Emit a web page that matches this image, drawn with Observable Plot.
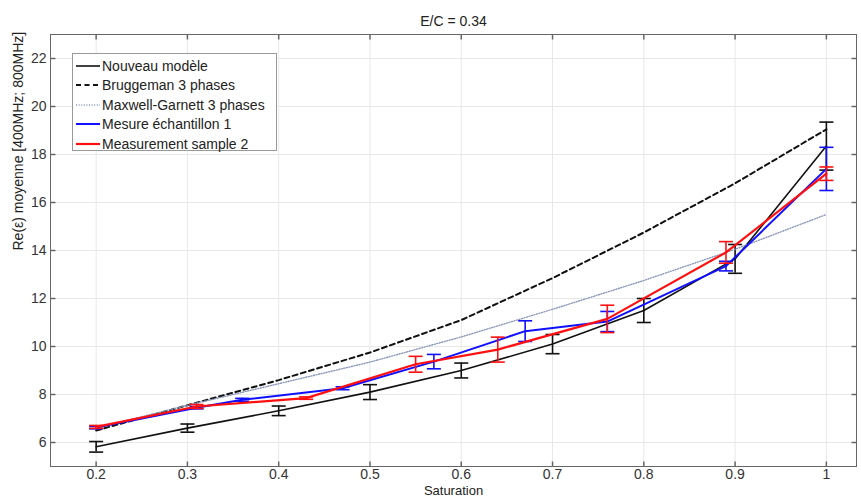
<!DOCTYPE html>
<html>
<head>
<meta charset="utf-8">
<script src="https://cdn.jsdelivr.net/npm/d3@7"></script>
<script src="https://cdn.jsdelivr.net/npm/@observablehq/plot@0.6"></script>
<style>
  html, body { margin: 0; padding: 0; background: #fff; }
  #wrap { position: relative; width: 861px; height: 501px; font-family: "Liberation Sans", Arial, sans-serif; }
  #legend { position: absolute; left: 72px; top: 53px; width: 205px; height: 98px; background: #fff; border: 1px solid #999; box-sizing: border-box; padding-top: 2px; }
  #legend .row { display: flex; align-items: center; height: 19.5px; font-size: 14px; color: #222; white-space: nowrap; }
  #legend svg { margin-left: 2px; margin-right: 1px; }
</style>
</head>
<body>
<div id="wrap"><div id="legend"></div></div>
<script>
// ---- data ----
const title = "E/C = 0.34";
const xLabel = "Saturation";
const yLabel = "Re(\u03b5) moyenne [400MHz; 800MHz]";
const xTicks = [0.2, 0.3, 0.4, 0.5, 0.6, 0.7, 0.8, 0.9, 1];
const yTicks = [6, 8, 10, 12, 14, 16, 18, 20, 22];

const modelSat = [0.2, 0.3, 0.4, 0.5, 0.6, 0.7, 0.8, 0.9, 1.0];
const modelMean = [5.82, 6.6, 7.32, 8.1, 9.0, 10.1, 11.5, 13.65, 18.35];
const modelErr = [0.22, 0.17, 0.2, 0.31, 0.31, 0.4, 0.5, 0.6, 1.0];

const bruggeman = [6.5, 7.55, 8.6, 9.75, 11.1, 12.85, 14.75, 16.8, 19.05];
const maxwell = [6.6, 7.55, 8.45, 9.35, 10.4, 11.55, 12.75, 14.05, 15.5];

const s1Sat = [0.2, 0.31, 0.36, 0.47, 0.57, 0.67, 0.76, 0.89, 1.0];
const s1Mean = [6.62, 7.45, 7.78, 8.26, 9.37, 10.64, 11.04, 13.35, 17.4];
const s1Err = [0.05, 0.05, 0.06, 0.06, 0.3, 0.43, 0.42, 0.2, 0.9];

const s2Sat = [0.2, 0.31, 0.43, 0.55, 0.64, 0.76, 0.89, 1.0];
const s2Mean = [6.65, 7.5, 7.85, 9.26, 9.87, 11.15, 13.92, 17.2];
const s2Err = [0.06, 0.08, 0.05, 0.33, 0.52, 0.57, 0.45, 0.28];

const seriesNames = ["Nouveau modèle", "Bruggeman 3 phases", "Maxwell-Garnett 3 phases", "Mesure échantillon 1", "Measurement sample 2"];

// ---- build tables ----
const model = modelSat.map((s, i) => ({s, v: modelMean[i], e: modelErr[i]}));
const brug = modelSat.map((s, i) => ({s, v: bruggeman[i]}));
const mg = modelSat.map((s, i) => ({s, v: maxwell[i]}));
const m1 = s1Sat.map((s, i) => ({s, v: s1Mean[i], e: s1Err[i]}));
const m2 = s2Sat.map((s, i) => ({s, v: s2Mean[i], e: s2Err[i]}));

const styles = [
  {stroke: "#111", strokeWidth: 1.6, dash: null},
  {stroke: "#111", strokeWidth: 2, dash: "5,3.5"},
  {stroke: "#8a97b8", strokeWidth: 1.4, dash: "1,1.6"},
  {stroke: "#1010ff", strokeWidth: 2, dash: null},
  {stroke: "#ff1010", strokeWidth: 2.2, dash: null}
];

// custom symbols
const cap = {draw(ctx) { ctx.moveTo(-7, 0); ctx.lineTo(7, 0); }};
const tickInR = {draw(ctx) { ctx.moveTo(0, 0); ctx.lineTo(5, 0); }};
const tickInL = {draw(ctx) { ctx.moveTo(0, 0); ctx.lineTo(-5, 0); }};
const tickInU = {draw(ctx) { ctx.moveTo(0, 0); ctx.lineTo(0, -5); }};
const tickInD = {draw(ctx) { ctx.moveTo(0, 0); ctx.lineTo(0, 5); }};

function errMarks(data, st) {
  return [
    Plot.ruleX(data, {x: "s", y1: d => d.v - d.e, y2: d => d.v + d.e, stroke: st.stroke, strokeWidth: 1.6}),
    Plot.dot(data, {x: "s", y: d => d.v - d.e, symbol: cap, stroke: st.stroke, fill: "none", strokeWidth: 1.6}),
    Plot.dot(data, {x: "s", y: d => d.v + d.e, symbol: cap, stroke: st.stroke, fill: "none", strokeWidth: 1.6})
  ];
}
function lineMark(data, st) {
  return Plot.line(data, {x: "s", y: "v", stroke: st.stroke, strokeWidth: st.strokeWidth, strokeDasharray: st.dash});
}

const chart = Plot.plot({
  width: 861,
  height: 501,
  marginLeft: 50,
  marginRight: 5,
  marginTop: 34,
  marginBottom: 35,
  style: {fontFamily: "'Liberation Sans', Arial, sans-serif", fontSize: "14px", color: "#333", background: "#fff"},
  x: {domain: [0.15, 1.033]},
  y: {domain: [5, 23]},
  marks: [
    Plot.gridX(xTicks, {stroke: "#e8e8e8", strokeOpacity: 1}),
    Plot.gridY(yTicks, {stroke: "#e8e8e8", strokeOpacity: 1}),
    Plot.frame({stroke: "#666", strokeWidth: 1}),
    Plot.axisX(xTicks, {tickSize: 0, tickPadding: 3, tickFormat: d => String(d), label: null, fill: "#333"}),
    Plot.axisY(yTicks, {tickSize: 0, tickPadding: 4, label: null, fill: "#333"}),
    Plot.dot(yTicks, {y: d => d, frameAnchor: "left", symbol: tickInR, stroke: "#666", fill: "none"}),
    Plot.dot(yTicks, {y: d => d, frameAnchor: "right", symbol: tickInL, stroke: "#666", fill: "none"}),
    Plot.dot(xTicks, {x: d => d, frameAnchor: "bottom", symbol: tickInU, stroke: "#666", fill: "none"}),
    Plot.dot(xTicks, {x: d => d, frameAnchor: "top", symbol: tickInD, stroke: "#666", fill: "none"}),
    lineMark(model, styles[0]),
    ...errMarks(model, styles[0]),
    lineMark(brug, styles[1]),
    lineMark(mg, styles[2]),
    lineMark(m1, styles[3]),
    ...errMarks(m1, styles[3]),
    lineMark(m2, styles[4]),
    ...errMarks(m2, styles[4]),
    Plot.text([title], {text: d => d, frameAnchor: "top", dy: -18, fontSize: 14, fill: "#222"}),
    Plot.text([xLabel], {text: d => d, frameAnchor: "bottom", dy: 28, fontSize: 13, fill: "#222"}),
    Plot.text([yLabel], {text: d => d, frameAnchor: "left", rotate: -90, dx: -32, fontSize: 14, fill: "#222"})
  ]
});
document.getElementById("wrap").prepend(chart);

// legend
const legend = document.getElementById("legend");
seriesNames.forEach((name, i) => {
  const st = styles[i];
  const row = document.createElement("div");
  row.className = "row";
  row.innerHTML = `<svg width="26" height="10"><line x1="1" y1="5" x2="25" y2="5" stroke="${st.stroke}" stroke-width="${st.strokeWidth}" ${st.dash ? `stroke-dasharray="${st.dash}"` : ""}/></svg><span>${name}</span>`;
  legend.appendChild(row);
});
</script>
</body>
</html>
